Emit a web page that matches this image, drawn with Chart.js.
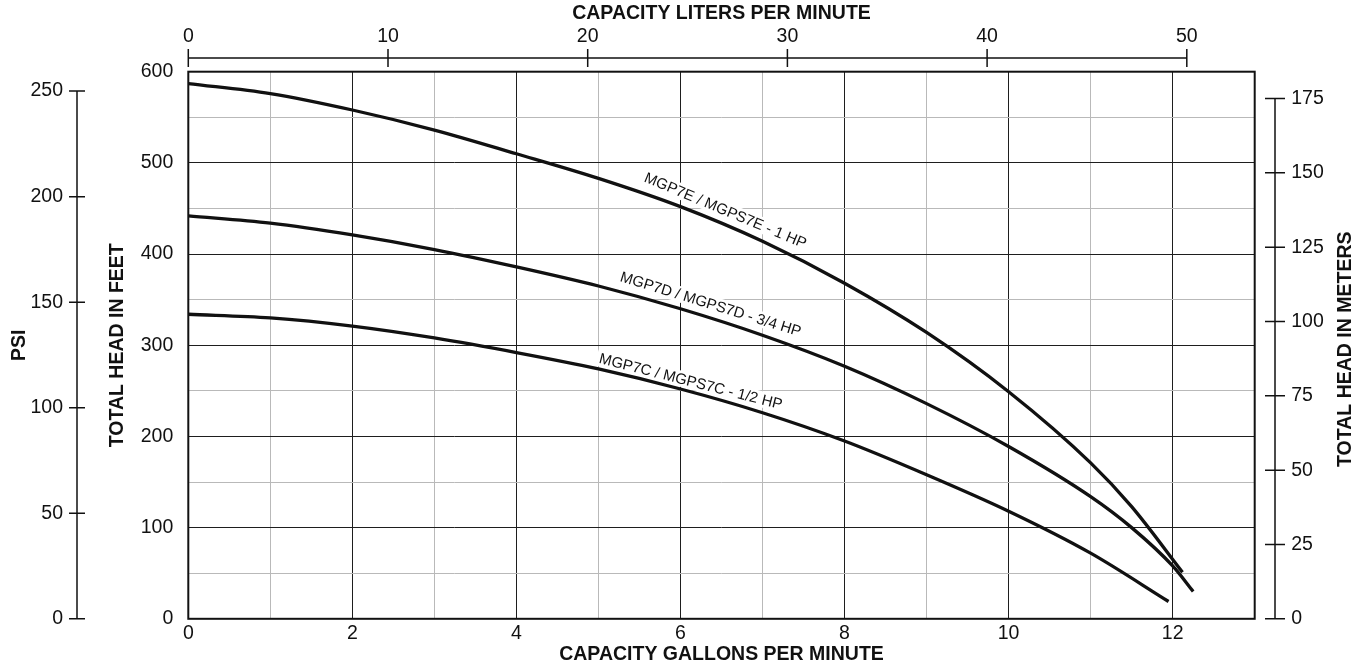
<!DOCTYPE html>
<html>
<head>
<meta charset="utf-8">
<script src="https://cdn.jsdelivr.net/npm/chart.js@4.4.1/dist/chart.umd.min.js"></script>
<style>
  html, body { margin: 0; padding: 0; background: #fff; }
  #wrap { width: 1367px; height: 667px; }
</style>
</head>
<body>
<div id="wrap"><canvas id="pumpChart" width="1367" height="667"></canvas></div>
<script>
// Pump curves: total head (feet) against capacity (gallons per minute)
const gpmE = [0, 1, 2, 3, 4, 5, 6, 7, 8, 9, 10, 11, 11.5, 12.12];
const headE = [587, 576, 558, 536, 510, 483, 452, 414, 368, 314, 249, 171, 123, 51];

const gpmD = [0, 1, 2, 3, 4, 5, 6, 7, 8, 9, 10, 11, 11.5, 12, 12.25];
const headD = [442, 434, 421, 405, 386, 365, 340, 311, 277, 236, 189, 134, 100, 58, 30];

const gpmC = [0, 1, 2, 3, 4, 5, 6, 7, 8, 9, 10, 11, 11.95];
const headC = [334, 330, 321, 308, 292, 274, 252, 226, 195, 158, 118, 72, 19];

const curveNames = ["MGP7E / MGPS7E - 1 HP", "MGP7D / MGPS7D - 3/4 HP", "MGP7C / MGPS7C - 1/2 HP"];

const lpmTicks = [0, 10, 20, 30, 40, 50];
const psiTicks = [0, 50, 100, 150, 200, 250];
const meterTicks = [0, 25, 50, 75, 100, 125, 150, 175];

// where each curve name sits (baseline start / end, in gpm and feet)
const labelSpots = [
  { from: [5.556, 479.5], to: [7.498, 406.5] },
  { from: [5.254, 370.6], to: [7.449, 309.6] },
  { from: [5.010, 280.5], to: [7.213, 230.0] },
];

const INK = "#111";
const DARK = "#1e1e1e";
const LIGHT = "#b9b9b9";
const FAMILY = '"Liberation Sans", Arial, Helvetica, sans-serif';
const tickFont = { family: FAMILY, size: 19.5 };
const titleFont = { family: FAMILY, size: 19.5, weight: "bold" };

function toPoints(xs, ys) {
  return xs.map((x, i) => ({ x: x, y: ys[i] }));
}

function drawVAxis(ctx, scale, xPos, values, half) {
  ctx.beginPath();
  ctx.moveTo(xPos, scale.getPixelForValue(values[values.length - 1]));
  ctx.lineTo(xPos, scale.getPixelForValue(values[0]));
  values.forEach((v) => {
    const p = scale.getPixelForValue(v);
    ctx.moveTo(xPos - half, p);
    ctx.lineTo(xPos + half, p);
  });
  ctx.stroke();
}

function drawHAxis(ctx, scale, yPos, values, half) {
  ctx.beginPath();
  ctx.moveTo(scale.getPixelForValue(values[0]), yPos);
  ctx.lineTo(scale.getPixelForValue(values[values.length - 1]), yPos);
  values.forEach((v) => {
    const p = scale.getPixelForValue(v);
    ctx.moveTo(p, yPos - half);
    ctx.lineTo(p, yPos + half);
  });
  ctx.stroke();
}

const extras = {
  id: "extras",
  beforeDatasetsDraw(chart) {
    const { ctx, scales: { x, y } } = chart;
    ctx.save();
    ctx.font = `15px ${FAMILY}`;
    curveNames.forEach((name, i) => {
      const s = labelSpots[i];
      const x0 = x.getPixelForValue(s.from[0]), y0 = y.getPixelForValue(s.from[1]);
      const x1 = x.getPixelForValue(s.to[0]), y1 = y.getPixelForValue(s.to[1]);
      const w = ctx.measureText(name).width;
      ctx.save();
      ctx.translate((x0 + x1) / 2, (y0 + y1) / 2);
      ctx.rotate(Math.atan2(y1 - y0, x1 - x0));
      ctx.fillStyle = "#fff";
      ctx.fillRect(-w / 2 - 3, -13, w + 6, 16);
      ctx.fillStyle = INK;
      ctx.textAlign = "center";
      ctx.textBaseline = "alphabetic";
      ctx.fillText(name, 0, 0);
      ctx.restore();
    });
    ctx.restore();
  },
  afterDraw(chart) {
    const { ctx, chartArea: a, scales } = chart;
    ctx.save();
    ctx.strokeStyle = INK;
    ctx.lineWidth = 2;
    ctx.strokeRect(a.left, a.top, a.right - a.left, a.bottom - a.top);

    ctx.lineWidth = 1.5;
    drawVAxis(ctx, scales.yPsi, scales.yPsi.right, psiTicks, 8);
    drawVAxis(ctx, scales.yM, scales.yM.left + 20.3, meterTicks, 10);
    drawHAxis(ctx, scales.xTop, scales.xTop.bottom - 13.7, lpmTicks, 9);

    // right-hand title reads bottom to top
    ctx.fillStyle = INK;
    ctx.font = `bold 19.5px ${FAMILY}`;
    ctx.translate(1346, (a.top + a.bottom) / 2 + 4);
    ctx.rotate(-Math.PI / 2);
    ctx.textAlign = "center";
    ctx.textBaseline = "middle";
    ctx.fillText("TOTAL HEAD IN METERS", 0, 0);
    ctx.restore();
  },
};

const lineStyle = {
  borderColor: INK,
  borderWidth: 3.3,
  pointRadius: 0,
  fill: false,
  cubicInterpolationMode: "monotone",
  xAxisID: "x",
  yAxisID: "y",
};

new Chart(document.getElementById("pumpChart"), {
  type: "line",
  data: {
    datasets: [
      { ...lineStyle, label: curveNames[0], data: toPoints(gpmE, headE) },
      { ...lineStyle, label: curveNames[1], data: toPoints(gpmD, headD) },
      { ...lineStyle, label: curveNames[2], data: toPoints(gpmC, headC) },
    ],
  },
  options: {
    responsive: false,
    animation: false,
    devicePixelRatio: 1,
    layout: { padding: 0 },
    plugins: { legend: { display: false }, tooltip: { enabled: false } },
    scales: {
      x: {
        type: "linear",
        position: "bottom",
        min: 0,
        max: 13,
        afterFit: (s) => { s.height = 47.7; },
        ticks: {
          stepSize: 1, autoSkip: false, maxRotation: 0, padding: 3,
          color: INK, font: tickFont,
          callback: (v) => (v % 2 === 0 ? v : ""),
        },
        grid: { color: (c) => (c.tick.value % 2 === 0 ? DARK : LIGHT), lineWidth: 1, drawTicks: false },
        border: { display: false },
        title: { display: true, text: "CAPACITY GALLONS PER MINUTE", color: INK, font: titleFont, padding: { top: 0, bottom: 0.3 } },
      },
      xTop: {
        type: "linear",
        position: "top",
        min: 0,
        max: 53.4,
        afterFit: (s) => { s.height = 71.7; },
        afterBuildTicks: (s) => { s.ticks = lpmTicks.map((v) => ({ value: v })); },
        ticks: { autoSkip: false, maxRotation: 0, padding: 23, color: INK, font: tickFont, callback: (v) => v },
        grid: { display: false, drawTicks: false },
        border: { display: false },
        title: { display: true, text: "CAPACITY LITERS PER MINUTE", color: INK, font: titleFont, padding: { top: 2.3, bottom: 0 } },
      },
      y: {
        type: "linear",
        position: "left",
        weight: 0,
        min: 0,
        max: 600,
        afterFit: (s) => { s.width = 111.3; },
        ticks: {
          stepSize: 50, autoSkip: false, padding: 15, color: INK, font: tickFont,
          callback: (v) => (v % 100 === 0 ? v : ""),
        },
        grid: { color: (c) => (c.tick.value % 100 === 0 ? DARK : LIGHT), lineWidth: 1, drawTicks: false },
        border: { display: false },
        title: { display: true, text: "TOTAL HEAD IN FEET", color: INK, font: titleFont, padding: { top: 29.3, bottom: 0 } },
      },
      yPsi: {
        type: "linear",
        position: "left",
        weight: 1,
        min: 0,
        max: 259.2,
        afterFit: (s) => { s.width = 77; },
        afterBuildTicks: (s) => { s.ticks = psiTicks.map((v) => ({ value: v })); },
        ticks: { autoSkip: false, padding: 14, color: INK, font: tickFont, callback: (v) => v },
        grid: { display: false, drawTicks: false },
        border: { display: false },
        title: { display: true, text: "PSI", color: INK, font: titleFont, padding: { top: 8.3, bottom: 0 } },
      },
      yM: {
        type: "linear",
        position: "right",
        min: 0,
        max: 184,
        afterFit: (s) => { s.width = 112.3; },
        afterBuildTicks: (s) => { s.ticks = meterTicks.map((v) => ({ value: v })); },
        ticks: { autoSkip: false, padding: 36.5, color: INK, font: tickFont, callback: (v) => v },
        grid: { display: false, drawTicks: false },
        border: { display: false },
      },
    },
  },
  plugins: [extras],
});
</script>
</body>
</html>
